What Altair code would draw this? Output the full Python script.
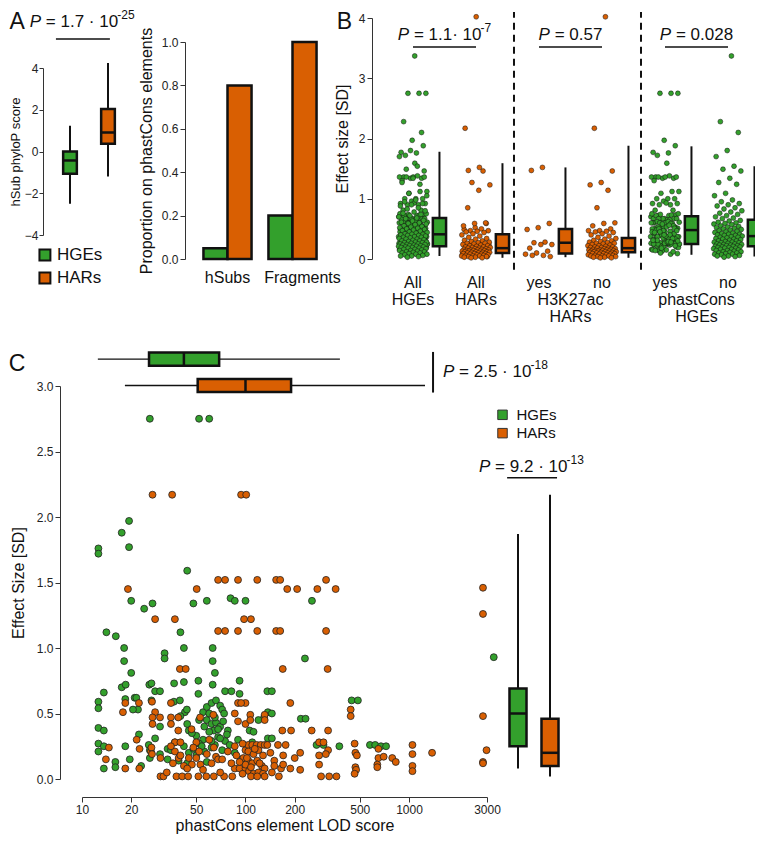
import altair as alt
import pandas as pd

# ------------------------------------------------------------------ data
GROUPS = ["HGEs", "HARs"]

# Panel A (left): hSub phyloP score, box statistics
a_lo = [-2.5, -1.2]
a_q1 = [-1.07, 0.37]
a_med = [-0.43, 0.91]
a_q3 = [0.0, 2.03]
a_hi = [1.23, 4.24]

# Panel A (right): proportion on phastCons elements
bar_cats = ["hSubs", "Fragments"]
bar_hge = [0.05, 0.20]
bar_har = [0.80, 1.00]

# Panel C: HGEs (LOD score, effect size)
c_hge_lod = [12.6, 12.6, 17.5, 19.4, 19.4, 26, 52, 60, 44,
             20, 27, 48, 58, 81, 86, 100, 255, 24,
             14.1, 16.1, 40, 18.1, 42, 63, 32, 32, 18.1, 63, 231, 3300, 20, 65,
             13.6, 17.5, 18.5, 25.8, 26.6, 28, 30, 36.6, 42, 51.5, 51.5, 63, 75, 82, 92, 92, 136, 145, 446, 487,
             12.6, 12.6, 18.4, 21, 21.5, 22, 20.5, 26.6, 36.5, 39.7, 42.6, 43.8, 55, 58, 62, 66, 70, 72, 74,
             58, 62, 66, 70, 78, 64, 60, 137, 130, 145, 218, 233, 106, 137, 145, 112,
             12.6, 13.6, 22.3, 45, 50, 55, 68, 75,
             12.6, 12.6, 13.6, 18.4, 25.6, 26, 26, 33.4, 33.4, 45, 42, 48, 52, 56, 62, 65, 72, 80, 86, 95,
             13.6, 16, 16, 19.6, 39, 44, 58, 272, 300, 375, 577, 621, 674, 724, 23, 30, 37,
             40, 44, 47, 52, 56, 60, 65, 68, 73, 77, 50, 54, 62, 70, 35, 30, 28, 110, 120, 90]
c_hge_eff = [1.76, 1.72, 1.88, 1.97, 1.77, 2.75, 2.75, 2.75, 1.59,
             1.36, 1.34, 1.34, 1.36, 1.38, 1.36, 1.36, 1.36, 1.30,
             1.12, 1.09, 1.12, 1.00, 1.00, 1.00, 0.96, 0.92, 0.90, 0.90, 0.92, 0.93, 0.81, 0.81,
             0.66, 0.70, 0.72, 0.72, 0.73, 0.67, 0.67, 0.73, 0.74, 0.75, 0.65, 0.72, 0.67, 0.67, 0.75, 0.65, 0.67, 0.67, 0.60, 0.60,
             0.59, 0.54, 0.61, 0.62, 0.62, 0.53, 0.53, 0.60, 0.59, 0.60, 0.51, 0.53, 0.51, 0.55, 0.58, 0.60, 0.56, 0.53, 0.50,
             0.45, 0.42, 0.43, 0.40, 0.37, 0.37, 0.36, 0.51, 0.47, 0.50, 0.46, 0.46, 0.37, 0.31, 0.31, 0.36,
             0.39, 0.37, 0.34, 0.37, 0.33, 0.30, 0.32, 0.29,
             0.27, 0.21, 0.25, 0.25, 0.26, 0.22, 0.16, 0.23, 0.15, 0.20, 0.25, 0.23, 0.27, 0.21, 0.24, 0.26, 0.22, 0.26, 0.20, 0.15,
             0.08, 0.13, 0.09, 0.15, 0.14, 0.12, 0.13, 0.26, 0.26, 0.25, 0.26, 0.26, 0.25, 0.25, 0.10, 0.19, 0.28,
             0.48, 0.42, 0.35, 0.45, 0.40, 0.50, 0.47, 0.38, 0.44, 0.34, 0.18, 0.25, 0.29, 0.31, 0.22, 0.40, 0.31, 0.28, 0.45, 0.30]

# Panel C: HARs (LOD score, effect size)
c_har_lod = [27, 35.6, 94, 101,
             68, 75, 90, 118, 154, 163, 311,
             19.1, 50.3, 180, 207, 275, 356, 2835,
             28, 37, 98, 108, 2835,
             68, 75, 90, 118, 154, 163, 311,
             39.7, 43.1, 169, 318,
             18.4, 22.3, 17.8, 26.8, 28, 30, 27, 27, 35, 35, 38.8, 35, 38.8, 46.8, 52.8, 63.6, 86, 90, 100, 90,
             100, 94, 107, 107, 131, 131, 188, 168, 190, 254, 320, 440, 440, 2835,
             14.6, 14.0, 18.4, 22.4, 21.6, 22.5, 26.4, 26.6, 26.8, 30.2, 30.2, 31.5, 37, 40, 37, 39, 42, 37.8, 41, 44.6,
             51.5, 50, 52, 50, 53, 47, 57.6, 64, 74, 60, 64, 66, 68, 72, 86, 100, 97, 86, 92, 100, 83,
             104, 110, 117, 124, 131, 104, 112, 120, 128, 104, 110, 118, 126, 131, 105, 112, 120, 128, 131, 108,
             118, 96, 100, 92,
             216, 200, 188, 216, 282, 300, 320, 282, 310, 282, 290, 325, 360, 465, 470, 480, 470, 475, 465, 650,
             650, 640, 640, 700, 790, 830, 1050, 1050, 1050, 1050, 1384, 2835, 2835, 2980,
             33, 36, 40, 44, 48, 55, 58, 62, 70, 78, 82, 88, 96, 102, 108, 114, 122, 136, 142, 150,
             158, 165, 170, 176, 145, 150, 160, 170, 35, 45]
c_har_eff = [2.17, 2.17, 2.17, 2.17,
             1.52, 1.52, 1.52, 1.52, 1.52, 1.52, 1.52,
             1.45, 1.45, 1.45, 1.45, 1.45, 1.45, 1.46,
             1.22, 1.22, 1.22, 1.22, 1.26,
             1.13, 1.13, 1.13, 1.13, 1.13, 1.13, 1.13,
             0.84, 0.84, 0.84, 0.84,
             0.58, 0.58, 0.51, 0.59, 0.51, 0.47, 0.47, 0.42, 0.58, 0.47, 0.47, 0.42, 0.37, 0.38, 0.47, 0.49, 0.50, 0.44, 0.42, 0.58,
             0.58, 0.58, 0.49, 0.45, 0.49, 0.45, 0.58, 0.37, 0.37, 0.37, 0.37, 0.53, 0.48, 0.48,
             0.24, 0.15, 0.08, 0.08, 0.30, 0.23, 0.21, 0.24, 0.19, 0.16, 0.02, 0.02, 0.28, 0.28, 0.21, 0.16, 0.10, 0.02, 0.02, 0.02,
             0.02, 0.28, 0.21, 0.16, 0.11, 0.11, 0.02, 0.02, 0.02, 0.30, 0.24, 0.17, 0.15, 0.15, 0.25, 0.22, 0.16, 0.08, 0.08, 0.08, 0.02,
             0.26, 0.26, 0.26, 0.26, 0.26, 0.21, 0.19, 0.22, 0.18, 0.14, 0.12, 0.14, 0.10, 0.08, 0.06, 0.04, 0.05, 0.04, 0.02, 0.02,
             0.02, 0.04, 0.11, 0.13,
             0.20, 0.16, 0.08, 0.07, 0.28, 0.28, 0.22, 0.18, 0.19, 0.11, 0.02, 0.02, 0.02, 0.27, 0.20, 0.18, 0.09, 0.07, 0.04, 0.23,
             0.16, 0.11, 0.09, 0.17, 0.16, 0.13, 0.26, 0.19, 0.10, 0.06, 0.20, 0.13, 0.12, 0.22,
             0.05, 0.12, 0.18, 0.08, 0.24, 0.07, 0.19, 0.12, 0.05, 0.21, 0.12, 0.18, 0.27, 0.16, 0.09, 0.23, 0.12, 0.26, 0.20, 0.14,
             0.26, 0.08, 0.18, 0.26, 0.05, 0.10, 0.02, 0.11, 0.25, 0.16]

# Panel B: effect sizes per group (HGEs on phastCons = c_hge_eff)
b_hge_phast_no = [3.37, 2.28, 2.10, 1.80, 1.70, 1.54, 1.49, 1.46, 1.34, 1.27, 1.24, 1.09, 1.05, 0.98, 0.95, 0.92,
                  0.90, 0.88, 0.85, 0.83, 0.80, 0.78, 0.76, 0.74, 0.72, 0.70, 0.68, 0.67,
                  0.64, 0.63, 0.61, 0.60, 0.59, 0.58, 0.57, 0.55, 0.54, 0.53, 0.52, 0.51, 0.50, 0.49, 0.48, 0.47,
                  0.46, 0.45, 0.44, 0.43, 0.42, 0.41, 0.41, 0.40, 0.39, 0.39, 0.38,
                  0.37, 0.36, 0.36, 0.35, 0.34, 0.33, 0.33, 0.32, 0.31, 0.30, 0.30, 0.29, 0.28, 0.28, 0.27, 0.27,
                  0.26, 0.25, 0.25, 0.24, 0.24, 0.23, 0.23, 0.22, 0.22, 0.21, 0.21,
                  0.20, 0.20, 0.19, 0.19, 0.18, 0.18, 0.17, 0.16, 0.16, 0.15, 0.14, 0.14, 0.13, 0.12, 0.12, 0.11,
                  0.10, 0.10, 0.09, 0.08, 0.08, 0.07, 0.06, 0.05, 0.05, 0.04, 0.03]
b_har_h3_yes = [1.52, 1.47, 0.59, 0.52, 0.49, 0.28, 0.27, 0.24, 0.24, 0.18, 0.13, 0.10, 0.08, 0.06, 0.06, 0.04]
b_har_h3_no = [4.02, 2.17, 1.46, 1.27, 1.23, 1.14, 0.85, 0.60, 0.59, 0.55, 0.50, 0.47, 0.47, 0.46, 0.45, 0.44, 0.42, 0.40, 0.38, 0.36,
               0.34, 0.33, 0.31, 0.30, 0.29, 0.28, 0.27, 0.26, 0.26, 0.25, 0.24, 0.23, 0.22, 0.22, 0.21, 0.20, 0.20, 0.19, 0.19, 0.18,
               0.18, 0.17, 0.17, 0.16, 0.16, 0.15, 0.15, 0.15, 0.14, 0.14, 0.14, 0.13, 0.13, 0.13, 0.12, 0.12, 0.12, 0.11, 0.11, 0.11,
               0.10, 0.10, 0.09, 0.09, 0.09, 0.08, 0.08, 0.07, 0.07, 0.06, 0.06, 0.05, 0.05, 0.05, 0.04, 0.04, 0.03, 0.03, 0.02, 0.02]

b_labels1 = ["All", "All", "yes", "no", "yes", "no"]
b_labels2 = ["HGEs", "HARs", "H3K27ac", "phastCons"]
b_labels3 = ["HARs", "HGEs"]
b_box_grp = ["HGEs", "HARs", "HARs", "HARs", "HGEs", "HGEs"]
b_lo = [0.05, 0.02, 0.03, 0.02, 0.07, 0.04]
b_q1 = [0.21, 0.10, 0.09, 0.11, 0.25, 0.21]
b_med = [0.41, 0.18, 0.27, 0.18, 0.48, 0.38]
b_q3 = [0.68, 0.41, 0.50, 0.35, 0.71, 0.65]
b_hi = [1.78, 1.59, 1.52, 1.88, 1.87, 1.54]

# Panel C marginal boxes
ct_lo = [12.5, 18.3]
ct_q1 = [25.7, 51]
ct_med = [42, 100]
ct_q3 = [69, 190]
ct_hi = [378, 1253]
cr_lo = [0.08, 0.02]
cr_q1 = [0.25, 0.10]
cr_med = [0.50, 0.20]
cr_q3 = [0.69, 0.46]
cr_hi = [1.87, 2.17]

# ------------------------------------------------------------------ style / layout
GREEN = "#33A02C"
ORANGE = "#D95F02"
FONT = "Liberation Sans"
INK = "#111111"
W, H = 747, 826


def px(a, b):
    return [a - 8, b - 8]


def lin(dom, rng):
    return alt.Scale(domain=dom, range=px(*rng), nice=False, zero=False)


A1X = lin([0, 1], (70, 108))
A1Y = lin([-4, 4], (235, 68))
A2X = lin([0, 1], (227.5, 292.5))
A2Y = lin([0, 1], (259, 42))
BX = lin([0, 5], (413, 728))
BY = lin([0, 4], (259, 18))
CX = alt.Scale(type="log", domain=[10, 3000], range=px(82, 487), nice=False)
CY = lin([0, 3], (779, 386))
RX = lin([0, 1], (518, 550))

FILL = alt.Fill("grp:N", scale=alt.Scale(domain=GROUPS, range=[GREEN, ORANGE]), legend=None)


def axis(orient, pos, values, fmt, title, tpad, tsize=16, tick=5, lpad=2):
    off = -(pos - 8) if orient == "left" else (pos - 8) - H
    return alt.Axis(orient=orient, offset=off, values=values, format=fmt, title=title, grid=False,
                    domainColor="#333", tickColor="#333", tickSize=tick, labelFont=FONT, labelFontSize=12,
                    labelColor="#222", labelPadding=lpad, titleFont=FONT, titleFontSize=tsize,
                    titleFontWeight="normal", titleColor=INK, titlePadding=tpad, labelOverlap=False,
                    labelFlush=False)


def T(x, y, xs, ys, text, size=15, align="left", baseline="middle", dx=0, dy=0, italic=False):
    df = pd.DataFrame({"x": [x], "y": [y]})
    kw = dict(text=text, font=FONT, fontSize=size, align=align, baseline=baseline, dx=dx, dy=dy, color=INK)
    if italic:
        kw["fontStyle"] = "italic"
    return alt.Chart(df).mark_text(**kw).encode(
        x=alt.X("x:Q", scale=xs, axis=None), y=alt.Y("y:Q", scale=ys, axis=None))


CW = {**{d: 0.556 for d in "0123456789"}, ".": 0.278, " ": 0.278, "=": 0.584, "·": 0.278, "-": 0.333, "P": 0.667}


def tw(s, size):
    return sum(CW.get(c, 0.6) for c in s) * size


def ptext(x, y, xs, ys, mant, exp=None, size=17, center=True, shift=0):
    es = 12
    wp = tw("P ", size)
    wm = tw("= " + mant, size)
    we = tw(exp, es) if exp else 0
    s0 = (-(wp + wm + we) / 2 if center else 0) + shift
    out = [T(x, y, xs, ys, "P", size, dx=s0, italic=True),
           T(x, y, xs, ys, "= " + mant, size, dx=s0 + wp)]
    if exp:
        out.append(T(x, y, xs, ys, exp, es, dx=s0 + wp + wm, dy=-7))
    return out


def hline(x1, x2, y, xs, ys, w=1.5):
    df = pd.DataFrame({"x": [x1], "x2": [x2], "y": [y]})
    return alt.Chart(df).mark_rule(color=INK, strokeWidth=w).encode(
        x=alt.X("x:Q", scale=xs, axis=None), x2="x2:Q", y=alt.Y("y:Q", scale=ys, axis=None))


def vboxes(df, xs, ys, half, wl=2.0, bw=2.5, yax=None):
    base = alt.Chart(df).transform_calculate(l=f"datum.pos - {half}", r=f"datum.pos + {half}")
    whisk = base.mark_rule(color=INK, strokeWidth=wl).encode(
        x=alt.X("pos:Q", scale=xs, axis=None), y=alt.Y("lo:Q", scale=ys, axis=yax), y2="hi:Q")
    box = base.mark_rect(stroke=INK, strokeWidth=bw).encode(
        x=alt.X("l:Q", scale=xs, axis=None), x2="r:Q",
        y=alt.Y("q1:Q", scale=ys, axis=None), y2="q3:Q", fill=FILL)
    med = base.mark_rule(color=INK, strokeWidth=bw).encode(
        x=alt.X("l:Q", scale=xs, axis=None), x2="r:Q", y=alt.Y("med:Q", scale=ys, axis=None))
    return [whisk, box, med]


def hboxes(df, xs, ys, half, wl=1.3, bw=2.5):
    base = alt.Chart(df).transform_calculate(b=f"datum.pos - {half}", t=f"datum.pos + {half}")
    whisk = base.mark_rule(color=INK, strokeWidth=wl).encode(
        y=alt.Y("pos:Q", scale=ys, axis=None), x=alt.X("lo:Q", scale=xs, axis=None), x2="hi:Q")
    box = base.mark_rect(stroke=INK, strokeWidth=bw).encode(
        y=alt.Y("b:Q", scale=ys, axis=None), y2="t:Q",
        x=alt.X("q1:Q", scale=xs, axis=None), x2="q3:Q", fill=FILL)
    med = base.mark_rule(color=INK, strokeWidth=bw).encode(
        y=alt.Y("b:Q", scale=ys, axis=None), y2="t:Q", x=alt.X("med:Q", scale=xs, axis=None))
    return [whisk, box, med]


layers = []

# ------------------------------------------------------------------ panel A (box)
a_df = pd.DataFrame({"pos": [0, 1], "grp": GROUPS, "lo": a_lo, "q1": a_q1, "med": a_med, "q3": a_q3, "hi": a_hi})
layers += vboxes(a_df, A1X, A1Y, 0.18,
                 yax=axis("left", 43, [-4, -2, 0, 2, 4], "d", "hSub phyloP score", 2, 13, tick=4, lpad=1))
layers += ptext(0.32, 6.2, A1X, A1Y, "1.7 · 10", "-25")
layers.append(hline(-0.37, 1.05, 5.39, A1X, A1Y))
leg_a = pd.DataFrame({"x": [-0.66, -0.66], "y": [-4.96, -6.06], "grp": GROUPS})
layers.append(alt.Chart(leg_a).mark_square(size=120, stroke=INK, strokeWidth=2, opacity=1).encode(
    x=alt.X("x:Q", scale=A1X, axis=None), y=alt.Y("y:Q", scale=A1Y, axis=None), fill=FILL))
layers.append(alt.Chart(leg_a).mark_text(font=FONT, fontSize=17, align="left", baseline="middle", dx=12,
                                         color=INK).encode(
    x=alt.X("x:Q", scale=A1X, axis=None), y=alt.Y("y:Q", scale=A1Y, axis=None), text="grp:N"))
layers.append(T(-1.39, 6.2, A1X, A1Y, "A", 23, align="center"))

# ------------------------------------------------------------------ panel A (bars)
bar_rows = []
for g, (h, r) in enumerate(zip(bar_hge, bar_har)):
    bar_rows.append({"g": g, "s": 0, "v": h, "grp": "HGEs", "z": 0})
    bar_rows.append({"g": g, "s": 1, "v": r, "grp": "HARs", "z": 0})
bar_df = pd.DataFrame(bar_rows)
layers.append(alt.Chart(bar_df).transform_calculate(
    x1="datum.g - 0.37 + 0.37 * datum.s", x2="datum.g + 0.37 * datum.s").mark_rect(
    stroke=INK, strokeWidth=2.5).encode(
    x=alt.X("x1:Q", scale=A2X, axis=None), x2="x2:Q",
    y=alt.Y("v:Q", scale=A2Y, axis=axis("left", 185, [0, 0.2, 0.4, 0.6, 0.8, 1.0], ".1f",
                                         "Proportion on phastCons elements", 7)),
    y2="z:Q", fill=FILL))
layers.append(T(0, -0.088, A2X, A2Y, bar_cats[0], 16, align="center"))
layers.append(T(1, -0.088, A2X, A2Y, bar_cats[1], 16, align="center", dx=10))

# ------------------------------------------------------------------ panel B
b_sets = [(0, "HGEs", c_hge_eff + b_hge_phast_no), (1, "HARs", b_har_h3_yes + b_har_h3_no),
          (2, "HARs", b_har_h3_yes), (3, "HARs", b_har_h3_no),
          (4, "HGEs", c_hge_eff), (5, "HGEs", b_hge_phast_no)]
b_rows = [{"g": g, "grp": grp, "v": v} for g, grp, vals in b_sets for v in vals]
b_df = pd.DataFrame(b_rows)
layers.append(alt.Chart(b_df).transform_window(idx="row_number()", groupby=["g"]).transform_calculate(
    jx="datum.g + ((datum.idx * 0.618034) % 1 - 0.5) * 0.46").mark_circle(
    size=24, stroke=INK, strokeWidth=0.5, opacity=1).encode(
    x=alt.X("jx:Q", scale=BX, axis=None),
    y=alt.Y("v:Q", scale=BY, axis=axis("left", 372, [0, 1, 2, 3, 4], "d", "Effect size [SD]", 8)),
    fill=FILL))
bb_df = pd.DataFrame({"pos": [g + 0.42 for g in range(6)], "grp": b_box_grp, "lo": b_lo, "q1": b_q1,
                      "med": b_med, "q3": b_q3, "hi": b_hi})
layers += vboxes(bb_df, BX, BY, 0.105)
dash_df = pd.DataFrame({"x": [1.603, 3.619], "y": [-0.18, -0.18], "y2": [4.1, 4.1]})
layers.append(alt.Chart(dash_df).mark_rule(color=INK, strokeWidth=2, strokeDash=[7, 5]).encode(
    x=alt.X("x:Q", scale=BX, axis=None), y=alt.Y("y:Q", scale=BY, axis=None), y2="y2:Q"))
layers += ptext(0.5, 3.72, BX, BY, "1.1· 10", "-7")
layers += ptext(2.5, 3.72, BX, BY, "0.57")
layers += ptext(4.5, 3.72, BX, BY, "0.028")
for x1 in (0, 2, 4):
    layers.append(hline(x1, x1 + 1, 3.52, BX, BY))
lab_df = pd.DataFrame({"x": list(range(6)), "y": [-0.40] * 6, "t": b_labels1})
layers.append(alt.Chart(lab_df).mark_text(font=FONT, fontSize=16, align="center", baseline="middle",
                                          color=INK).encode(
    x=alt.X("x:Q", scale=BX, axis=None), y=alt.Y("y:Q", scale=BY, axis=None), text="t:N"))
lab2_df = pd.DataFrame({"x": [0, 1, 2.5, 4.5], "y": [-0.68] * 4, "t": b_labels2})
layers.append(alt.Chart(lab2_df).mark_text(font=FONT, fontSize=16, align="center", baseline="middle",
                                           color=INK).encode(
    x=alt.X("x:Q", scale=BX, axis=None), y=alt.Y("y:Q", scale=BY, axis=None), text="t:N"))
lab3_df = pd.DataFrame({"x": [2.5, 4.5], "y": [-0.96] * 2, "t": b_labels3})
layers.append(alt.Chart(lab3_df).mark_text(font=FONT, fontSize=16, align="center", baseline="middle",
                                           color=INK).encode(
    x=alt.X("x:Q", scale=BX, axis=None), y=alt.Y("y:Q", scale=BY, axis=None), text="t:N"))
layers.append(T(-1.09, 3.93, BX, BY, "B", 23, align="center"))

# ------------------------------------------------------------------ panel C
cg_df = pd.DataFrame({"lod": c_hge_lod, "eff": c_hge_eff, "grp": "HGEs"})
co_df = pd.DataFrame({"lod": c_har_lod, "eff": c_har_eff, "grp": "HARs"})
layers.append(alt.Chart(cg_df).mark_circle(size=48, stroke="#222", strokeWidth=0.8, opacity=1).encode(
    x=alt.X("lod:Q", scale=CX, axis=axis("bottom", 797, [10, 20, 50, 100, 200, 500, 1000, 3000], "d",
                                          "phastCons element LOD score", 2)),
    y=alt.Y("eff:Q", scale=CY, axis=axis("left", 60, [0, 0.5, 1, 1.5, 2, 2.5, 3], ".1f",
                                          "Effect Size [SD]", 10)),
    fill=FILL))
layers.append(alt.Chart(co_df).mark_circle(size=48, stroke="#222", strokeWidth=0.8, opacity=1).encode(
    x=alt.X("lod:Q", scale=CX, axis=None), y=alt.Y("eff:Q", scale=CY, axis=None), fill=FILL))

ct_df = pd.DataFrame({"pos": [3.205, 3.004], "grp": GROUPS, "lo": ct_lo, "q1": ct_q1, "med": ct_med,
                      "q3": ct_q3, "hi": ct_hi})
layers += hboxes(ct_df, CX, CY, 0.05)
pbar = pd.DataFrame({"x": [1403], "y": [2.95], "y2": [3.26]})
layers.append(alt.Chart(pbar).mark_rule(color=INK, strokeWidth=2).encode(
    x=alt.X("x:Q", scale=CX, axis=None), y=alt.Y("y:Q", scale=CY, axis=None), y2="y2:Q"))
layers += ptext(1403, 3.11, CX, CY, "2.5 · 10", "-18", center=False, shift=10)

cr_df = pd.DataFrame({"pos": [0, 1], "grp": GROUPS, "lo": cr_lo, "q1": cr_q1, "med": cr_med,
                      "q3": cr_q3, "hi": cr_hi})
layers += vboxes(cr_df, RX, CY, 0.266)
leg_c = pd.DataFrame({"x": [-0.484, -0.484], "y": [2.78, 2.64], "grp": GROUPS})
layers.append(alt.Chart(leg_c).mark_square(size=90, stroke="#333", strokeWidth=1, opacity=1).encode(
    x=alt.X("x:Q", scale=RX, axis=None), y=alt.Y("y:Q", scale=CY, axis=None), fill=FILL))
layers.append(alt.Chart(leg_c).mark_text(font=FONT, fontSize=15, align="left", baseline="middle", dx=14,
                                         color=INK).encode(
    x=alt.X("x:Q", scale=RX, axis=None), y=alt.Y("y:Q", scale=CY, axis=None), text="grp:N"))
layers += ptext(0.42, 2.38, RX, CY, "9.2 · 10", "-13")
layers.append(hline(-0.34, 1.22, 2.30, RX, CY))
layers.append(T(4.0, 3.17, CX, CY, "C", 23, align="center"))

chart = alt.layer(*layers).resolve_scale(x="independent", y="independent").resolve_axis(
    x="independent", y="independent").properties(
    width=W, height=H, padding=0, autosize=alt.AutoSizeParams(type="none")).configure_view(stroke=None)

chart.save("out.html", embed_options={"renderer": "svg", "actions": False})
